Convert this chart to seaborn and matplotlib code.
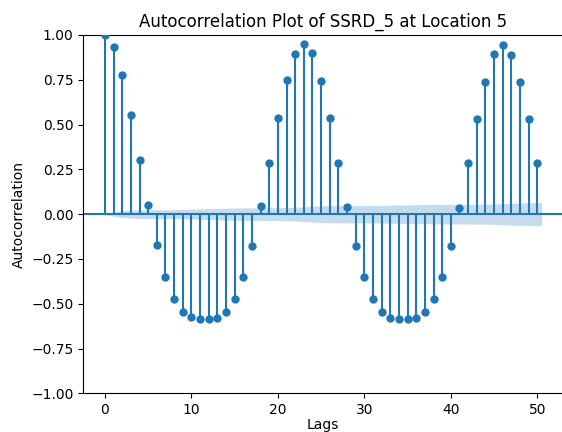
import numpy as np
import pandas as pd
import matplotlib
matplotlib.use("Agg")
import matplotlib.pyplot as plt
import seaborn as sns

# Sample autocorrelation of SSRD_5 at location 5, lags 0..50
lags = list(range(51))
acf_values = [
    1.000, 0.933, 0.777, 0.552, 0.302, 0.050,
    -0.170, -0.350, -0.473, -0.544, -0.575, -0.587,
    -0.587, -0.577, -0.544, -0.473, -0.350, -0.176,
    0.044, 0.288, 0.535, 0.747, 0.896, 0.950,
    0.897, 0.745, 0.535, 0.288, 0.042,
    -0.176, -0.350, -0.475, -0.544, -0.577, -0.587,
    -0.587, -0.577, -0.544, -0.475, -0.350, -0.176,
    0.036, 0.284, 0.530, 0.740, 0.892, 0.944,
    0.890, 0.740, 0.530, 0.284,
]
n_obs = 30700          # length of the underlying series
z_crit = 1.96          # 95% confidence

x_ticks = [0, 10, 20, 30, 40, 50]
y_ticks = [-1.00, -0.75, -0.50, -0.25, 0.00, 0.25, 0.50, 0.75, 1.00]

df = pd.DataFrame({"lag": lags, "acf": acf_values})

# Bartlett standard errors for the confidence band
r = np.asarray(acf_values)
var = np.ones(len(r)) / n_obs
var[0] = 0.0
var[1] = 1.0 / n_obs
var[2:] *= 1 + 2 * np.cumsum(r[1:-1] ** 2)
half_width = z_crit * np.sqrt(var)
band_x = np.asarray(lags, dtype=float)
band_x[0] -= 0.5
band_x[-1] += 0.5

W, H = 562, 432
fig = plt.figure(figsize=(W / 100, H / 100), dpi=100)
left, right, top, bottom = 83.3, 563.0, 35.0, 393.3
ax = fig.add_axes([left / W, (H - bottom) / H, (right - left) / W, (bottom - top) / H])

color = "#1f77b4"
ax.axhline(0, color=color, lw=1.5, zorder=1)
ax.vlines(df["lag"], 0, df["acf"], colors=color, lw=1.5, zorder=2)
sns.scatterplot(data=df, x="lag", y="acf", ax=ax, color=color, s=36,
                linewidth=0, zorder=3, legend=False)
ax.fill_between(band_x, -half_width, half_width, color=color, alpha=0.25,
                linewidth=0, zorder=1)

ax.set_xlim(-2.5, (right - left) / ((537.3 - 104.9) / 50) - 2.5)
ax.set_ylim(-1, 1)
ax.set_xticks(x_ticks)
ax.set_yticks(y_ticks)
ax.set_yticklabels([f"{v:.2f}".replace("-", "\u2212") for v in y_ticks])
ax.set_xlabel("Lags", labelpad=0.5)
ax.set_ylabel("Autocorrelation")
ax.set_title("Autocorrelation Plot of SSRD_5 at Location 5", fontsize=12)

fig.savefig("out.png", dpi=100)
